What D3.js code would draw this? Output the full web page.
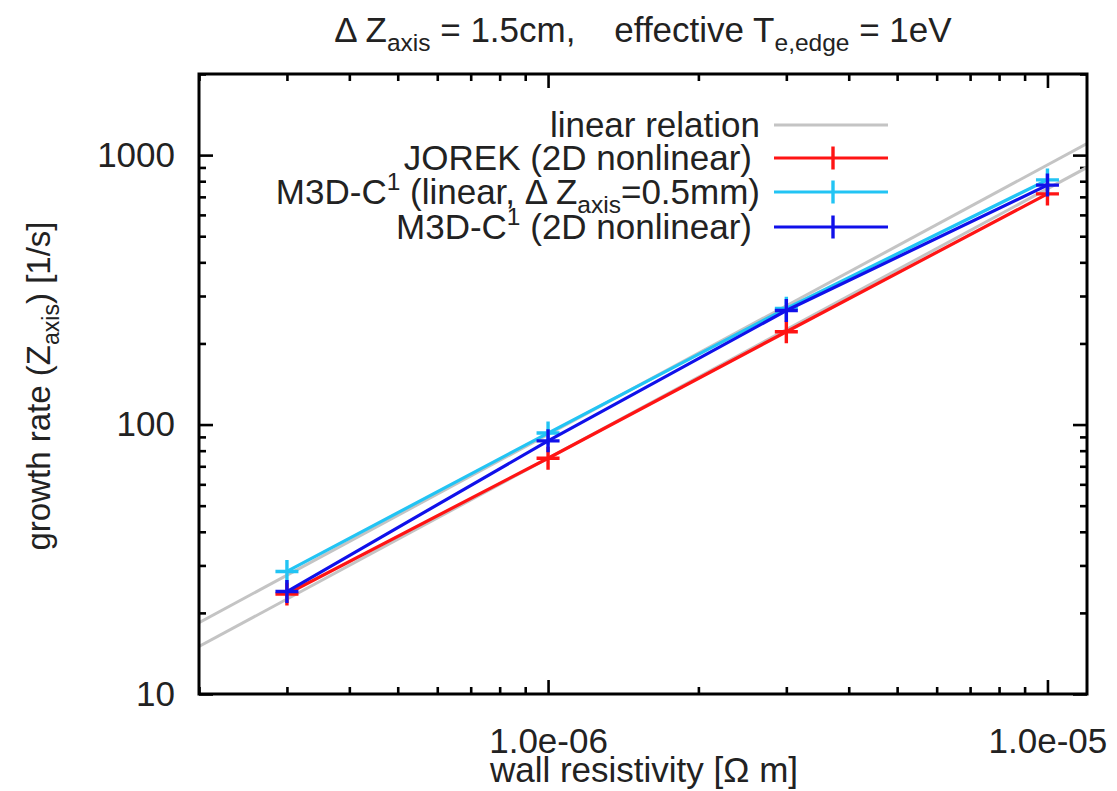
<!DOCTYPE html>
<html>
<head>
<meta charset="utf-8">
<script src="https://cdn.jsdelivr.net/npm/d3@7"></script>
<style>
  html, body { margin: 0; padding: 0; background: #fff; }
  svg { display: block; }
  text { font-family: "Liberation Sans", Arial, Helvetica, sans-serif; fill: #222; white-space: pre; }
</style>
</head>
<body>
<svg id="chart" width="1117" height="791"></svg>
<script>
// ---------------- data ----------------
const resistivity = [3e-7, 1e-6, 3e-6, 1e-5];
const jorek2D      = [23.5, 75, 221, 718];
const m3dLinear    = [28.5, 93, 270, 809];
const m3dNonlinear = [24, 87, 265, 774];
// "linear relation": growth rate = coefficient * resistivity
const linearCoefficients = [7.5e7, 9.2e7];

const xDomain = [2e-7, 1.2e-5];
const yDomain = [10, 2000];
const xMajorTicks = [1e-6, 1e-5];
const xTickLabels = ["1.0e-06", "1.0e-05"];
const yMajorTicks = [10, 100, 1000];
const yTickLabels = ["10", "100", "1000"];

const seriesNames = ["JOREK (2D nonlinear)", "M3D-C1 (linear)", "M3D-C1 (2D nonlinear)"];

// ---------------- layout ----------------
const svg = d3.select("#chart");
const M = { left: 199, right: 1087, top: 74, bottom: 694 };
const x = d3.scaleLog().domain(xDomain).range([M.left, M.right]);
const y = d3.scaleLog().domain(yDomain).range([M.bottom, M.top]);

const FS = 35;
const colors = { gray: "#c4c4c4", red: "#ff1414", cyan: "#22c4f4", blue: "#1010ea" };

function minorTicks(domain) {
  const out = [];
  const lo = Math.floor(Math.log10(domain[0])), hi = Math.ceil(Math.log10(domain[1]));
  for (let e = lo; e <= hi; e++) {
    for (let m = 2; m <= 9; m++) {
      const v = m * Math.pow(10, e);
      if (v >= domain[0] * 0.999 && v <= domain[1] * 1.001) out.push(v);
    }
  }
  return out;
}
const xMinor = minorTicks(xDomain);
const yMinor = minorTicks(yDomain);

// clip
svg.append("clipPath").attr("id", "clip").append("rect")
  .attr("x", M.left).attr("y", M.top).attr("width", M.right - M.left).attr("height", M.bottom - M.top);

// ---------------- axes (ticks inward, mirrored) ----------------
function drawTicks(axisGen, transform, cls) {
  const g = svg.append("g").attr("class", cls).attr("transform", transform).call(axisGen);
  g.select(".domain").remove();
  g.selectAll(".tick line").attr("stroke", "#000").attr("stroke-width", 2.6);
  g.selectAll(".tick text").attr("fill", "#222").style("font-size", FS + "px")
    .style("font-family", '"Liberation Sans", Arial, sans-serif');
  return g;
}
const MAJ = 14, MIN = 7;
// bottom
drawTicks(d3.axisBottom(x).tickValues(xMajorTicks).tickSize(-MAJ).tickPadding(34)
  .tickFormat((d, i) => xTickLabels[i]), `translate(0,${M.bottom})`, "xmaj");
drawTicks(d3.axisBottom(x).tickValues(xMinor).tickSize(-MIN).tickFormat(""), `translate(0,${M.bottom})`, "xmin");
// top
drawTicks(d3.axisTop(x).tickValues(xMajorTicks).tickSize(-MAJ).tickFormat(""), `translate(0,${M.top})`, "xmajt");
drawTicks(d3.axisTop(x).tickValues(xMinor).tickSize(-MIN).tickFormat(""), `translate(0,${M.top})`, "xmint");
// left
drawTicks(d3.axisLeft(y).tickValues(yMajorTicks).tickSize(-MAJ).tickPadding(24)
  .tickFormat((d, i) => yTickLabels[i]), `translate(${M.left},0)`, "ymaj");
drawTicks(d3.axisLeft(y).tickValues(yMinor).tickSize(-MIN).tickFormat(""), `translate(${M.left},0)`, "ymin");
// right
drawTicks(d3.axisRight(y).tickValues(yMajorTicks).tickSize(-MAJ).tickFormat(""), `translate(${M.right},0)`, "ymajr");
drawTicks(d3.axisRight(y).tickValues(yMinor).tickSize(-MIN).tickFormat(""), `translate(${M.right},0)`, "yminr");

// ---------------- linear relation lines ----------------
const plot = svg.append("g").attr("clip-path", "url(#clip)");
const line = d3.line().x(d => x(d[0])).y(d => y(d[1]));
linearCoefficients.forEach(c => {
  plot.append("path")
    .attr("d", line(xDomain.map(v => [v, c * v])))
    .attr("fill", "none").attr("stroke", colors.gray).attr("stroke-width", 3);
});

// ---------------- series ----------------
const series = [
  { name: seriesNames[0], values: jorek2D, color: colors.red },
  { name: seriesNames[1], values: m3dLinear, color: colors.cyan },
  { name: seriesNames[2], values: m3dNonlinear, color: colors.blue }
];
const CR = 11.5;
series.forEach(s => {
  const pts = resistivity.map((r, i) => [r, s.values[i]]);
  plot.append("path").attr("d", line(pts))
    .attr("fill", "none").attr("stroke", s.color).attr("stroke-width", 3.2);
  const g = plot.append("g");
  pts.forEach(p => {
    const cx = x(p[0]), cy = y(p[1]);
    g.append("path").attr("d", `M${cx - CR},${cy}H${cx + CR}M${cx},${cy - CR}V${cy + CR}`)
      .attr("stroke", s.color).attr("stroke-width", 3.4).attr("fill", "none");
  });
});

// frame
svg.append("rect").attr("x", M.left).attr("y", M.top)
  .attr("width", M.right - M.left).attr("height", M.bottom - M.top)
  .attr("fill", "none").attr("stroke", "#000").attr("stroke-width", 3);

// ---------------- legend ----------------
const legendRows = [
  { y: 125, tx: 760, color: colors.gray, cross: false, parts: [["linear relation", null]] },
  { y: 158, tx: 752, color: colors.red, cross: true, parts: [["JOREK (2D nonlinear)", null]] },
  { y: 192, tx: 760, color: colors.cyan, cross: true, parts: [["M3D-C", null], ["1", "sup"], [" (linear, \u0394 Z", null], ["axis", "sub"], ["=0.5mm)", null]] },
  { y: 227, tx: 752, color: colors.blue, cross: true, parts: [["M3D-C", null], ["1", "sup"], [" (2D nonlinear)", null]] }
];
const LX0 = 774, LX1 = 888;
function richText(sel, parts, fs) {
  let shift = 0;
  parts.forEach(([t, kind]) => {
    const ts = sel.append("tspan").text(t);
    if (kind === "sub") {
      const d = fs * 0.26; ts.attr("dy", d - shift).style("font-size", (fs * 0.7) + "px"); shift = d;
    } else if (kind === "sup") {
      const d = -fs * 0.4; ts.attr("dy", d - shift).style("font-size", (fs * 0.7) + "px"); shift = d;
    } else {
      if (shift !== 0) ts.attr("dy", -shift);
      shift = 0;
      ts.style("font-size", fs + "px");
    }
  });
}
legendRows.forEach(r => {
  const t = svg.append("text").attr("x", r.tx).attr("y", r.y).attr("dy", "0.35em")
    .attr("text-anchor", "end").style("font-size", FS + "px");
  richText(t, r.parts, FS);
  svg.append("line").attr("x1", LX0).attr("x2", LX1).attr("y1", r.y).attr("y2", r.y)
    .attr("stroke", r.color).attr("stroke-width", 3.2);
  if (r.cross) {
    const cx = (LX0 + LX1) / 2 + 2;
    svg.append("line").attr("x1", cx).attr("x2", cx).attr("y1", r.y - CR).attr("y2", r.y + CR)
      .attr("stroke", r.color).attr("stroke-width", 3.4);
  }
});

// ---------------- titles ----------------
const title = svg.append("text").attr("x", 643).attr("y", 42).attr("text-anchor", "middle")
  .style("font-size", FS + "px");
richText(title, [["\u0394 Z", null], ["axis", "sub"], [" = 1.5cm,    effective T", null], ["e,edge", "sub"], [" = 1eV", null]], FS);

svg.append("text").attr("x", 644).attr("y", 782).attr("text-anchor", "middle")
  .style("font-size", FS + "px").text("wall resistivity [\u03A9 m]");

const ylab = svg.append("text").attr("transform", "translate(50,386) rotate(-90)")
  .attr("text-anchor", "middle").style("font-size", "33px");
richText(ylab, [["growth rate (Z", null], ["axis", "sub"], [") [1/s]", null]], 33);
</script>
</body>
</html>
